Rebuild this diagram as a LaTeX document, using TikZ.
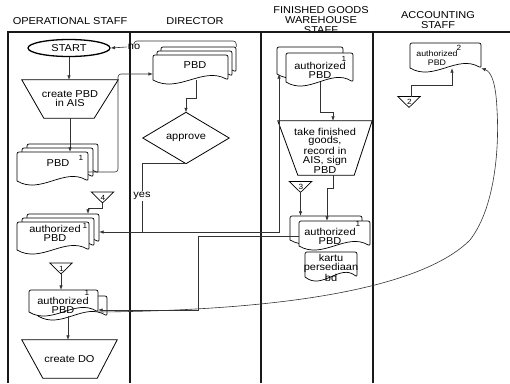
\documentclass[tikz,border=0pt]{standalone}
\usepackage{fontspec}
\setmainfont{Liberation Sans}[FakeStretch=1.1]
\usetikzlibrary{arrows.meta,calc,shapes.geometric}
\tikzset{
  ln/.style={draw=black!80, line width=0.6pt},
  arr/.style={ln, -{Latex[length=4.5pt,width=3.5pt]}},
  lane/.style={draw=black!90, line width=1.3pt},
  docln/.style={draw=black, fill=white, line width=0.7pt, rounded corners=2pt},
  doctxt/.style={inner sep=0pt, align=center, font=\fontsize{10}{9}\selectfont},
  num/.style={inner sep=0pt, font=\fontsize{7.5}{8}\selectfont},
  hdr/.style={align=center, inner sep=0pt, font=\fontsize{10}{10}\selectfont},
  shp/.style={draw=black, line width=0.8pt},
  shapetxt/.style={inner sep=0pt, align=center, font=\fontsize{10}{8.8}\selectfont},
}
% document shape: name, L, T, R, B
\newcommand\mydoc[5]{%
  \draw[docln] (#2,#5-4) -- (#2,#3) -- (#4,#3) -- (#4,#5-4)
     .. controls ({#2+2*(#4-#2)/3},#5-18) and ({#2+(#4-#2)/3},#5+10) .. (#2,#5-4);
  \node[inner sep=0pt, minimum width={(#4-#2)*1pt}, minimum height={(#5-#3-4)*1pt}] (#1) at ({(#2+#4)/2},{(#3+#5-4)/2}) {};
}
% off-page connector: name, x, y, digit
\newcommand\offpage[4]{%
  \node[inner sep=0pt, minimum width=22pt, minimum height=10.5pt] (#1) at (#2,#3) {};
  \draw[draw=black, fill=white, line width=0.7pt] (#1.north west) -- (#1.north east) -- (#1.south) -- cycle;
  \node[num] (#1n) at (#2+0.5,#3) {#4};
}
\begin{document}
\begin{tikzpicture}[x=1pt,y=-1pt]
\useasboundingbox (0,0) rectangle (510,383);
% headers
\node[hdr] (h1) at (70,21) {OPERATIONAL STAFF};
\node[hdr] (h2) at (195,21) {DIRECTOR};
\node[hdr] (h3) at (321,20) {FINISHED GOODS\\WAREHOUSE\\STAFF};
\node[hdr] (h4) at (438,20) {ACCOUNTING\\STAFF};
% lanes
\draw[lane] (8,383) -- (8,32) -- (510,32);
\draw[lane] (130,32) -- (130,383);
\draw[lane] (261,32) -- (261,383);
\draw[lane] (373,32) -- (373,383);

% ---------- operational staff ----------
\node[draw, ellipse, line width=1.3pt, minimum width=82pt, minimum height=17pt, inner sep=0pt, font=\fontsize{10}{10}\selectfont] (start) at (69,48) {START};

\node[shapetxt, minimum width=96pt, minimum height=38pt] (trap1) at (70,99) {create PBD\\in AIS};
\draw[shp] (trap1.north west) -- (trap1.north east) -- ($(trap1.south east)+(-24,0)$) -- ($(trap1.south west)+(22,0)$) -- cycle;

\mydoc{opbdb2}{27}{144}{98}{177}
\mydoc{opbdb1}{22}{148}{93}{181}
\mydoc{opbd}{17}{152}{88}{185}
\node[doctxt] (opbdt) at (58,163) {PBD};
\node[num] (opbdn) at (81,158) {1};

\offpage{t4}{102.5}{197.5}{4}

\mydoc{oauthb2}{27}{214}{99}{246}
\mydoc{oauthb1}{22}{218}{94}{250}
\mydoc{oauth}{17}{222}{89}{254}
\node[doctxt] (oautht) at (55,233.5) {authorized\\PBD};
\node[num] (oauthn) at (85,225.5) {1};

\offpage{t1}{61}{268.5}{1}

\mydoc{obotb}{38}{296}{107}{320}
\mydoc{obot}{29}{290}{98}{316}
\node[doctxt] (obott) at (63,305) {authorized\\PBD};
\node[num] (obotn) at (87,292.5) {1};

\node[shapetxt, minimum width=95pt, minimum height=38pt] (trap2) at (69.5,359) {create DO};
\draw[shp] (trap2.north west) -- (trap2.north east) -- ($(trap2.south east)+(-20,0)$) -- ($(trap2.south west)+(21,0)$) -- cycle;

% ---------- director ----------
\mydoc{dpbdb2}{161}{47}{236}{76}
\mydoc{dpbdb1}{157}{51}{232}{80}
\mydoc{dpbd}{153}{55}{228}{84}
\node[doctxt] (dpbdt) at (195,65) {PBD};

\node[shapetxt, minimum width=86pt, minimum height=51pt] (appr) at (186,138) {approve};
\draw[shp] (appr.north) -- (appr.east) -- (appr.south) -- (appr.west) -- cycle;

% ---------- warehouse ----------
\mydoc{whtopb}{277}{47}{343}{78}
\mydoc{whtop}{286}{53}{353}{86}
\node[doctxt] (whtopt) at (320,70.5) {authorized\\PBD};
\node[num] (whtopn) at (344,59) {1};

\node[inner sep=0pt, minimum width=94pt, minimum height=54pt] (trap3) at (325,148) {};
\draw[shp] (trap3.north west) -- (trap3.north east) -- ($(trap3.south east)+(-18,0)$) -- ($(trap3.south west)+(20,0)$) -- cycle;
\node[shapetxt] (trap3t) at (325,150.5) {take finished\\goods,\\record in\\AIS, sign\\PBD};

\offpage{t3}{300.5}{187}{3}

\mydoc{whbotb}{290}{216}{362}{244}
\mydoc{whbot}{299}{221}{370}{250}
\node[doctxt] (whbott) at (330,236.5) {authorized\\PBD};
\node[num] (whbotn) at (358,224) {1};

\mydoc{kartu}{305}{252}{357}{281}
\node[doctxt] (kartut) at (331,268) {kartu\\persediaan\\bd};

% ---------- accounting ----------
\mydoc{acc}{410}{43}{481}{72}
\node[doctxt, font=\fontsize{8}{9}\selectfont] (acct) at (437,58.5) {authorized\\PBD};
\node[num] (accn) at (459,47.5) {2};

\offpage{t2}{409}{102}{2}

% ---------- connectors ----------
\draw[arr] (start.south) -- (start.south |- trap1.north);
\draw[arr] (trap1.south) -- (trap1.south |- opbd.north);
\draw[arr, rounded corners=3pt] (opbd.east |- 0,172) -- (118,172) -- (118,74) -- (dpbd.west |- 0,74);
\draw[arr] (dpbd.south -| 196,0) |- (appr.north |- 0,98) -- (appr.north);

\coordinate (yj) at (142,232);
\draw[arr] (appr.south) -| (yj) -- (oauthb2.east |- yj);
\draw[arr] (yj) -| (whtopb.south -| 279,0);
\node[fill=white, inner sep=1pt, font=\fontsize{10}{10}\selectfont] (yes) at (142,196) {yes};

\node[inner sep=1pt, font=\fontsize{10}{10}\selectfont] (no) at (134,47) {no};
\draw[ln, rounded corners=3pt] (dpbdb2.north east) |- (no.north |- 0,41) -- (no.north);
\draw[arr] (no.west) -- (start.east);

\draw[arr] (t4.south) |- (88,208) -- (oauthb2.north -| 88,0);
\draw[arr] (t1.south) -- (t1.south |- obot.north);
\draw[arr] (obotb.south -| 68,0) -- (trap2.north -| 68,0);

\draw[arr] (whtop.south -| 320,0) |- (333,112) -- (trap3.north -| 333,0);
\draw[arr] (t3.south) -- (t3.south |- whbotb.north);
\draw[arr] (trap3.south -| 333,0) |- (327,188) -- (whbot.north -| 327,0);

\draw[arr] (whbot.west |- 0,236) -| (198,310) -- (obot.east |- 0,310);
\draw[arr] (obot.east |- 0,312) .. controls (320,310) and (430,280) .. (470,240)
   .. controls (497,205) and (499,140) .. (497,110)
   .. controls (496,85) and (492,72) .. (acc.south east);

\draw[arr] (t2.north -| 411,0) |- (452,85) -- (acc.south -| 452,0);
\end{tikzpicture}
\end{document}
